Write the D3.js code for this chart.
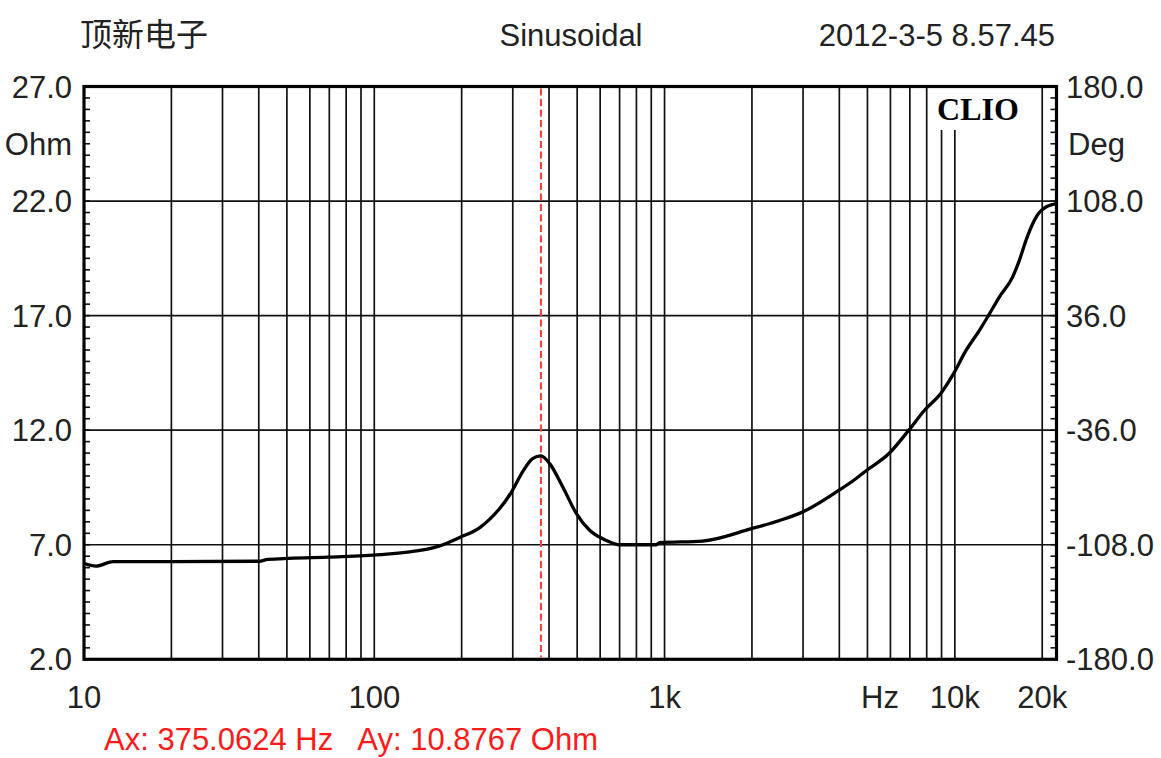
<!DOCTYPE html>
<html>
<head>
<meta charset="utf-8">
<script src="https://cdn.jsdelivr.net/npm/d3@7"></script>
<style>
  body { margin: 0; background: #fff; }
  svg text { font-family: "Liberation Sans", Arial, sans-serif; fill: #222; }
</style>
</head>
<body>
<svg id="chart"></svg>
<script>
// impedance curve (Hz, Ohm)
const freqs = [10, 11, 12.6, 20, 40, 43, 69, 105, 136, 159, 168, 197, 231, 250, 270, 297, 325, 351, 375,
  402, 446, 497, 552, 630, 700, 936, 961, 1350, 1990, 2490, 2990, 3980, 4440, 4970, 5920, 6930,
  7850, 8970, 9830, 10930, 12140, 12970, 14230, 15810, 16670, 17580, 18530, 19540, 20600, 21710, 22200];
const ohms = [6.18, 6.07, 6.26, 6.26, 6.28, 6.36, 6.46, 6.57, 6.71, 6.86, 6.95, 7.32, 7.75, 8.12, 8.57, 9.3, 10.2, 10.76, 10.88,
  10.54, 9.52, 8.36, 7.63, 7.19, 7.0, 7.0, 7.09, 7.16, 7.7, 8.06, 8.43, 9.37, 9.77, 10.25, 10.97, 11.99,
  12.86, 13.62, 14.4, 15.48, 16.35, 16.94, 17.81, 18.68, 19.4, 20.28, 21.0, 21.5, 21.74, 21.85, 21.88];

const ohmTicks = [27, 22, 17, 12, 7, 2];
const degTicks = [180, 108, 36, -36, -108, -180];
const xLabels = [[10, '10'], [100, '100'], [1000, '1k'], [10000, '10k'], [20000, '20k']];
const cursorHz = 375.0624;
const cursorText = 'Ax: 375.0624 Hz   Ay: 10.8767 Ohm';

const w = 1161;
const h = 758;
const pLeft = 84, pRight = 1056.5, pTop = 86.5, pBottom = 659.3;

const svg = d3.select('#chart').attr('width', w).attr('height', h);

const x = d3.scaleLog().domain([10, 22400]).range([pLeft, pRight]);
const y = d3.scaleLinear().domain([2, 27]).range([pBottom, pTop]);
const yDeg = d3.scaleLinear().domain([-180, 180]).range([pBottom, pTop]);

// vertical grid: 2..9 of every decade, plus 100, 1k, 10k, 20k
const vGrid = [];
[10, 100, 1000, 10000].forEach((dec) => {
  for (let k = 1; k <= 9; k++) {
    const f = dec * k;
    if (f > 10 && f <= 20000) vGrid.push(f);
  }
});

svg.selectAll('.vgrid').data(vGrid).enter().append('line')
  .attr('x1', (d) => x(d)).attr('x2', (d) => x(d))
  .attr('y1', pTop).attr('y2', pBottom)
  .attr('stroke', '#111').attr('stroke-width', 1.7);

svg.selectAll('.hgrid').data(ohmTicks.slice(1, -1)).enter().append('line')
  .attr('x1', pLeft).attr('x2', pRight)
  .attr('y1', (d) => y(d)).attr('y2', (d) => y(d))
  .attr('stroke', '#111').attr('stroke-width', 1.7);

// minor ticks inside left and right edges, every 0.5 Ohm
const minor = d3.range(2, 27.01, 0.5);
svg.selectAll('.ltick').data(minor).enter().append('line')
  .attr('x1', pLeft).attr('x2', pLeft + 6)
  .attr('y1', (d) => y(d)).attr('y2', (d) => y(d))
  .attr('stroke', '#111').attr('stroke-width', 1.6);
svg.selectAll('.rtick').data(minor).enter().append('line')
  .attr('x1', pRight - 6).attr('x2', pRight)
  .attr('y1', (d) => y(d)).attr('y2', (d) => y(d))
  .attr('stroke', '#111').attr('stroke-width', 1.6);

// CLIO label box
svg.append('rect').attr('x', 931).attr('y', pTop + 1.5).attr('width', 94).attr('height', 42).attr('fill', '#fff');
svg.append('text').attr('x', 978).attr('y', 120).attr('text-anchor', 'middle')
  .style('font-family', '"Liberation Serif", "DejaVu Serif", serif')
  .style('font-weight', 'bold').style('font-size', '32px').style('fill', '#000')
  .text('CLIO');

// frame
svg.append('rect').attr('x', pLeft).attr('y', pTop)
  .attr('width', pRight - pLeft).attr('height', pBottom - pTop)
  .attr('fill', 'none').attr('stroke', '#000').attr('stroke-width', 3.2);

// cursor
svg.append('line')
  .attr('x1', x(cursorHz)).attr('x2', x(cursorHz))
  .attr('y1', pTop + 2).attr('y2', pBottom - 2)
  .attr('stroke', '#ff3a3a').attr('stroke-width', 2)
  .attr('stroke-dasharray', '7,3.5');

// impedance curve
const line = d3.line()
  .x((d, i) => x(freqs[i]))
  .y((d) => y(d))
  .curve(d3.curveMonotoneX);
svg.append('path').datum(ohms)
  .attr('d', line)
  .attr('fill', 'none').attr('stroke', '#000').attr('stroke-width', 3.3)
  .attr('stroke-linejoin', 'round');

// axis labels
const fs = '31px';
svg.selectAll('.ylab').data(ohmTicks).enter().append('text')
  .attr('x', 72).attr('y', (d) => y(d) + 11).attr('text-anchor', 'end')
  .style('font-size', fs).text((d) => d.toFixed(1));
svg.append('text').attr('x', 72).attr('y', 155).attr('text-anchor', 'end').style('font-size', fs).text('Ohm');

svg.selectAll('.dlab').data(degTicks).enter().append('text')
  .attr('x', 1066).attr('y', (d) => yDeg(d) + 11)
  .style('font-size', fs).text((d) => d.toFixed(1));
svg.append('text').attr('x', 1068).attr('y', 155).style('font-size', fs).text('Deg');

svg.selectAll('.xlab').data(xLabels).enter().append('text')
  .attr('x', (d) => x(d[0])).attr('y', 708).attr('text-anchor', 'middle')
  .style('font-size', fs).text((d) => d[1]);
svg.append('text').attr('x', 880).attr('y', 708).attr('text-anchor', 'middle').style('font-size', fs).text('Hz');

// header
svg.append('text').attr('x', 80).attr('y', 46)
  .style('font-family', '"Noto Sans CJK SC", sans-serif').style('font-size', '32px')
  .text('顶新电子');
svg.append('text').attr('x', 571).attr('y', 46).attr('text-anchor', 'middle').style('font-size', fs).text('Sinusoidal');
svg.append('text').attr('x', 1055).attr('y', 46).attr('text-anchor', 'end').style('font-size', fs).text('2012-3-5 8.57.45');

svg.append('text').attr('x', 104).attr('y', 750)
  .style('font-size', fs).style('fill', '#ff1a1a')
  .attr('xml:space', 'preserve').style('white-space', 'pre')
  .text(cursorText);
</script>
</body>
</html>
